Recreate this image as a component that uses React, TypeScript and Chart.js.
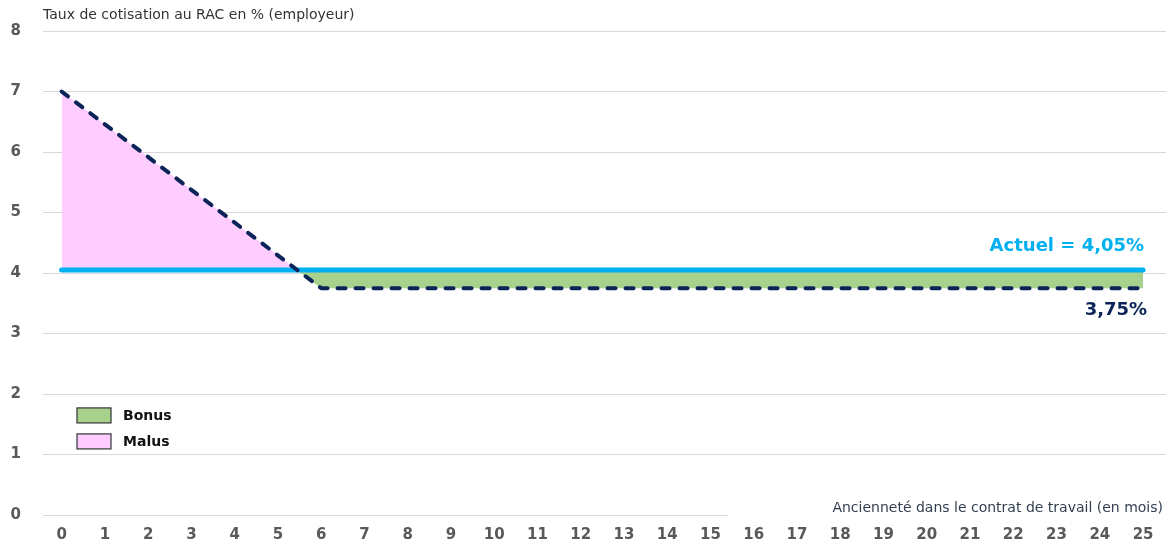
import React, { useEffect, useRef } from 'react';
import { Chart, registerables } from 'chart.js';

Chart.register(...registerables);

// ---- data ----
const months = [0, 1, 2, 3, 4, 5, 6, 7, 8, 9, 10, 11, 12, 13, 14, 15, 16, 17, 18, 19, 20, 21, 22, 23, 24, 25];
const currentX = [0, 25];
const currentY = [4.05, 4.05];
const newRateX = [0, 6, 25];
const newRateY = [7, 3.75, 3.75];
const currentLabel = 'Actuel = 4,05%';
const newRateLabel = '3,75%';
const legendLabels = ['Bonus', 'Malus'];
const legendColors = ['#A9D18E', '#FFCCFF'];
const yTitle = 'Taux de cotisation au RAC en % (employeur)';
const xTitle = 'Ancienneté dans le contrat de travail (en mois)';
const yMin = 0;
const yMax = 8;

const FONT = '"DejaVu Sans", "Open Sans", sans-serif';
const BLUE = '#00B0F0';
const NAVY = '#0A2358';

const decorPlugin = {
  id: 'decor',
  beforeDatasetsDraw(chart: any) {
    const { ctx, scales } = chart;
    const y0 = scales.y.getPixelForValue(0);
    const xStart = scales.x.getPixelForValue(15.4);
    ctx.save();
    ctx.fillStyle = '#ffffff';
    ctx.fillRect(xStart, y0 - 18, chart.width - xStart, 22);
    ctx.restore();
  },
  afterDraw(chart: any) {
    const { ctx, scales, chartArea } = chart;
    const sx = scales.x;
    const sy = scales.y;
    ctx.save();
    // x axis title
    ctx.font = `14px ${FONT}`;
    ctx.fillStyle = '#333F50';
    ctx.textAlign = 'right';
    ctx.textBaseline = 'middle';
    ctx.fillText(xTitle, chart.width - 3, sy.getPixelForValue(0) - 7);

    // annotations
    ctx.font = `bold 18px ${FONT}`;
    ctx.fillStyle = BLUE;
    ctx.textAlign = 'right';
    ctx.fillText(currentLabel, sx.getPixelForValue(25) + 1, sy.getPixelForValue(currentY[1]) - 24);
    ctx.fillStyle = NAVY;
    ctx.fillText(newRateLabel, sx.getPixelForValue(25) + 4, sy.getPixelForValue(newRateY[2]) + 22);

    // legend
    const bx = chartArea.left + 34;
    legendLabels.forEach((lab, i) => {
      const top = sy.getPixelForValue(1.77) + i * 26;
      ctx.fillStyle = legendColors[i];
      ctx.fillRect(bx, top, 34, 15);
      ctx.strokeStyle = '#333333';
      ctx.lineWidth = 1.2;
      ctx.strokeRect(bx, top, 34, 15);
      ctx.fillStyle = '#111111';
      ctx.font = `bold 14px ${FONT}`;
      ctx.textAlign = 'left';
      ctx.textBaseline = 'middle';
      ctx.fillText(lab, bx + 46, top + 8);
    });
    ctx.restore();
  },
};

export default function App() {
  const ref = useRef<HTMLCanvasElement>(null);

  useEffect(() => {
    if (!ref.current) return;
    const chart = new Chart(ref.current, {
      type: 'line',
      data: {
        datasets: [
          {
            label: 'Nouveau',
            data: newRateX.map((x, i) => ({ x, y: newRateY[i] })),
            borderColor: NAVY,
            borderWidth: 4,
            borderDash: [8, 10],
            borderCapStyle: 'round',
            borderJoinStyle: 'round',
            pointRadius: 0,
            tension: 0,
            fill: { target: { value: currentY[0] }, above: legendColors[1], below: legendColors[0] } as any,
          },
          {
            label: 'Actuel',
            data: currentX.map((x, i) => ({ x, y: currentY[i] })),
            borderColor: BLUE,
            borderWidth: 5,
            borderCapStyle: 'round',
            pointRadius: 0,
            fill: false,
          },
        ],
      },
      options: {
        responsive: false,
        animation: false,
        devicePixelRatio: 1,
        layout: { padding: { left: 0, right: 0, top: 0, bottom: 0 } },
        plugins: {
          legend: { display: false },
          tooltip: { enabled: false },
          filler: { drawTime: 'beforeDatasetsDraw' } as any,
          title: {
            display: true,
            text: yTitle,
            align: 'start',
            fullSize: false,
            color: '#333333',
            font: { family: FONT, size: 14, weight: 'normal' },
            padding: { top: 6, bottom: 7 },
          },
        },
        scales: {
          x: {
            type: 'linear',
            min: -0.43,
            max: 25.53,
            afterBuildTicks: (axis: any) => {
              axis.ticks = months.map((v) => ({ value: v }));
            },
            grid: { display: false, drawTicks: false },
            border: { display: false },
            ticks: {
              autoSkip: false,
              maxRotation: 0,
              color: '#595959',
              font: { family: FONT, size: 15, weight: 'bold' },
              padding: 11,
              callback: (v: any) => String(v),
            },
            afterFit: (s: any) => {
              s.height = 28;
            },
          },
          y: {
            min: yMin,
            max: yMax,
            ticks: {
              stepSize: 1,
              color: '#595959',
              font: { family: FONT, size: 15, weight: 'bold' },
              padding: 22,
            },
            grid: { color: '#D9D9D9', lineWidth: 1, drawTicks: false },
            border: { display: false },
            afterFit: (s: any) => {
              s.width = 43;
            },
          },
        },
      },
      plugins: [decorPlugin],
    });
    return () => chart.destroy();
  }, []);

  return (
    <div style={{ position: 'fixed', left: 0, top: 0, width: 1166, height: 546, background: '#fff' }}>
      <canvas ref={ref} width={1166} height={546} style={{ width: 1166, height: 546, display: 'block' }} />
    </div>
  );
}
